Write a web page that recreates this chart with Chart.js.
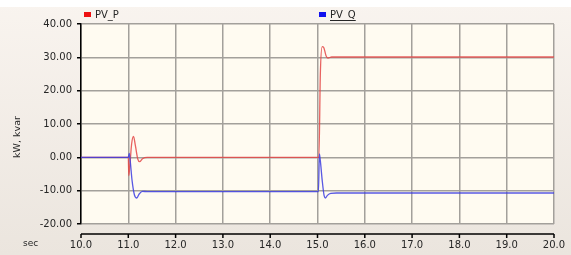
<!DOCTYPE html>
<html>
<head>
<meta charset="utf-8">
<script src="https://cdn.jsdelivr.net/npm/chart.js@4/dist/chart.umd.min.js"></script>
<style>
html,body{margin:0;padding:0;background:#fff;}
#wrap{width:571px;height:255px;position:relative;}
</style>
</head>
<body>
<div id="wrap"><canvas id="c" width="571" height="255"></canvas></div>
<script>
// ---- data ----
const seriesNames = ["PV_P", "PV_Q"];
const pTimes  = [10, 11.0, 11.01, 11.03, 11.07, 11.11, 11.15, 11.2, 11.24, 11.3, 11.4, 15.0, 15.03, 15.06, 15.1, 15.13, 15.18, 15.22, 15.3, 20];
const pValues = [0, 0, -5.5, -3, 4, 6.3, 3.5, -0.5, -1.3, -0.4, 0, 0, 0, 25, 33.2, 33, 30.5, 29.8, 30.1, 30.1];
const qTimes  = [10, 11.0, 11.02, 11.04, 11.08, 11.13, 11.18, 11.23, 11.3, 11.4, 15.02, 15.04, 15.06, 15.1, 15.14, 15.17, 15.21, 15.28, 15.4, 20];
const qValues = [0, 0, 1.2, -1, -7, -11.3, -12.2, -11, -10.2, -10.3, -10.3, 1.0, -1, -7, -11.5, -12.2, -11.4, -10.8, -10.7, -10.7];
const xTicks = { min: 10, max: 20, step: 1 };
const yTicks = { min: -20, max: 40, step: 10 };
const yTitle = "kW, kvar";
const xTitle = "sec";

const toPts = (t, v) => t.map((x, i) => ({ x: x, y: v[i] }));
const FONT = "'DejaVu Sans', sans-serif";
const TXT = "#262626";

const decor = {
  id: 'decor',
  beforeDraw(chart) {
    const ctx = chart.ctx, a = chart.chartArea;
    ctx.save();
    const g = ctx.createLinearGradient(0, 0, 0, 255);
    g.addColorStop(0, '#f9f4ef');
    g.addColorStop(1, '#ebe5de');
    ctx.fillStyle = g;
    ctx.fillRect(0, 0, 571, 255);
    ctx.fillStyle = '#ffffff';
    ctx.fillRect(0, 0, 571, 7);
    ctx.fillStyle = '#fffbf1';
    ctx.fillRect(a.left, a.top, a.right - a.left, a.bottom - a.top);
    ctx.restore();
  },
  afterDraw(chart) {
    const ctx = chart.ctx, xs = chart.scales.x;
    ctx.save();
    // x axis line below plot
    const ay = 234;
    ctx.strokeStyle = '#000';
    ctx.lineWidth = 1.5;
    ctx.beginPath();
    ctx.moveTo(xs.getPixelForValue(xTicks.min), ay);
    ctx.lineTo(xs.getPixelForValue(xTicks.max), ay);
    for (let v = xTicks.min; v <= xTicks.max + 1e-9; v += xTicks.step) {
      const px = xs.getPixelForValue(v);
      ctx.moveTo(px, ay);
      ctx.lineTo(px, ay + 4);
    }
    ctx.stroke();
    // axis titles
    ctx.fillStyle = TXT;
    ctx.font = "9px " + FONT;
    ctx.textAlign = 'left';
    ctx.textBaseline = 'middle';
    ctx.fillText(xTitle, 23, 244);
    ctx.save();
    ctx.translate(18, 137);
    ctx.rotate(-Math.PI / 2);
    ctx.textAlign = 'center';
    ctx.font = "9.5px " + FONT;
    ctx.fillText(yTitle, 0, 0);
    ctx.restore();
    // legend
    const items = [
      { name: seriesNames[0], color: '#ee1111', x: 84, underline: false },
      { name: seriesNames[1], color: '#1111ee', x: 319, underline: true }
    ];
    ctx.font = "10px " + FONT;
    ctx.textAlign = 'left';
    ctx.textBaseline = 'middle';
    items.forEach(it => {
      ctx.fillStyle = it.color;
      ctx.fillRect(it.x, 12, 7, 5);
      ctx.fillStyle = TXT;
      const tx = it.x + 11;
      ctx.fillText(it.name, tx, 15);
      if (it.underline) {
        const w = ctx.measureText(it.name).width;
        ctx.fillRect(tx, 20, w, 1);
      }
    });
    ctx.restore();
  }
};

new Chart(document.getElementById('c'), {
  type: 'line',
  data: {
    datasets: [
      {
        label: seriesNames[0],
        data: toPts(pTimes, pValues),
        borderColor: 'rgba(228,70,70,0.85)',
        borderWidth: 1.3,
        pointRadius: 0,
        fill: false,
        cubicInterpolationMode: 'monotone',
        order: 1
      },
      {
        label: seriesNames[1],
        data: toPts(qTimes, qValues),
        borderColor: 'rgba(60,60,225,0.85)',
        borderWidth: 1.3,
        pointRadius: 0,
        fill: false,
        cubicInterpolationMode: 'monotone',
        order: 0
      }
    ]
  },
  options: {
    responsive: false,
    animation: false,
    devicePixelRatio: 1,
    layout: { padding: { top: 24, right: 17, bottom: 0, left: 0 } },
    plugins: { legend: { display: false }, title: { display: false }, tooltip: { enabled: false } },
    scales: {
      x: {
        type: 'linear',
        min: xTicks.min, max: xTicks.max,
        afterFit(s) { s.height = 31; s.paddingRight = 0; s.paddingLeft = 0; },
        ticks: {
          stepSize: xTicks.step,
          callback: v => Number(v).toFixed(1),
          color: TXT,
          font: { family: FONT, size: 10 },
          padding: 15,
          maxRotation: 0
        },
        grid: { color: '#a3a09b', lineWidth: 1.5, drawTicks: false },
        border: { display: false }
      },
      y: {
        min: yTicks.min, max: yTicks.max,
        afterFit(s) { s.width = 81; },
        ticks: {
          stepSize: yTicks.step,
          callback: v => Number(v).toFixed(2),
          color: TXT,
          font: { family: FONT, size: 10 },
          padding: 5
        },
        grid: { color: '#a3a09b', lineWidth: 1.5, tickColor: '#000', tickLength: 4 },
        border: { display: true, color: '#000', width: 1.5 }
      }
    }
  },
  plugins: [decor]
});
</script>
</body>
</html>
